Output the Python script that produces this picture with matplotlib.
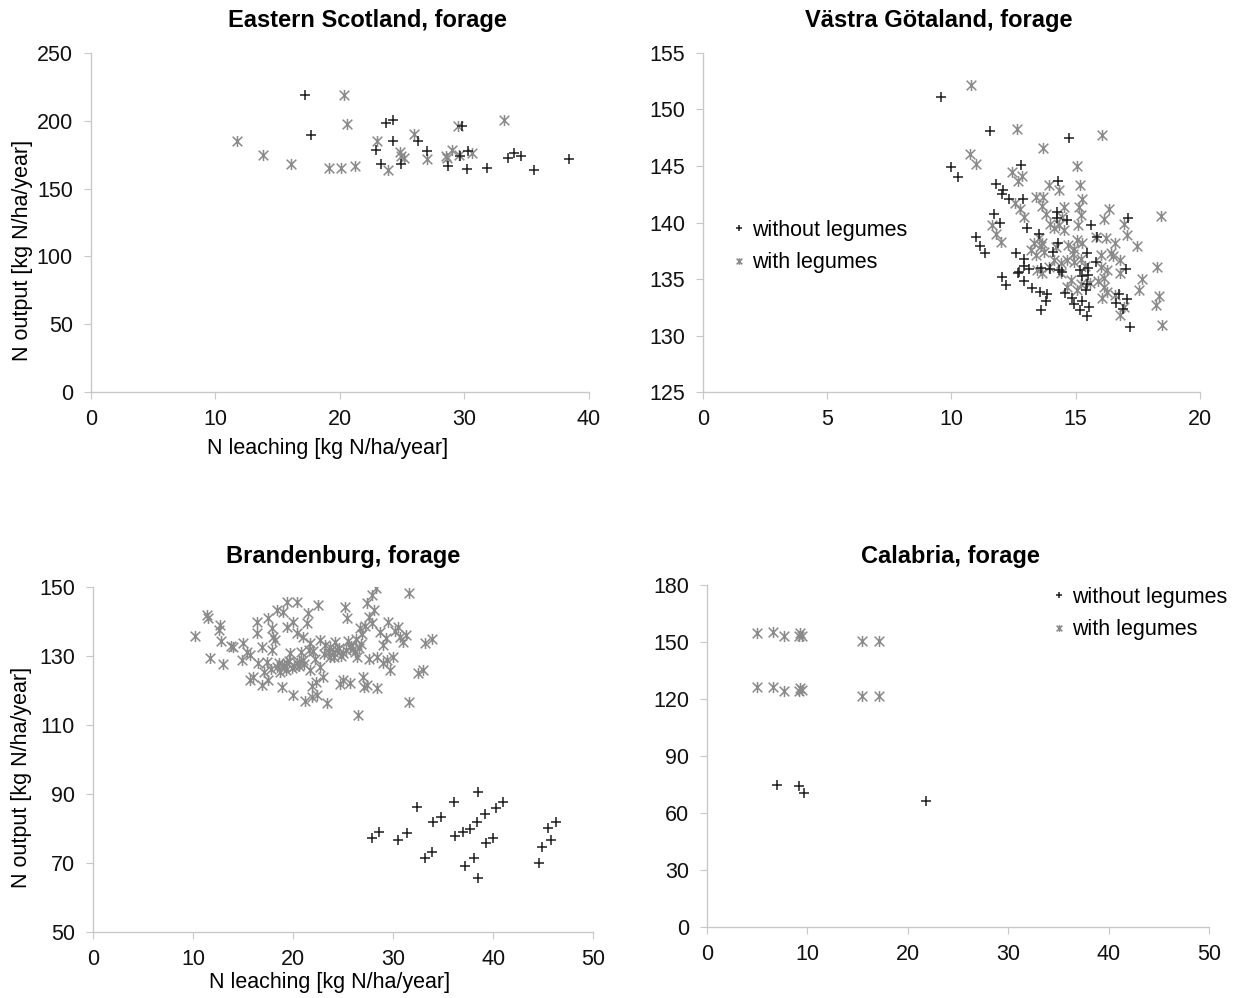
import matplotlib
matplotlib.use("Agg")
import matplotlib.pyplot as plt
from matplotlib.path import Path

plt.rcParams['font.family'] = ['Liberation Sans', 'DejaVu Sans']

# Eastern Scotland
sco_wo_x = [17.2, 17.7, 23.7, 24.3, 24.3, 22.9, 23.3, 24.9, 26.3, 27.0, 28.7, 29.7, 29.8, 30.2, 30.3,
            31.8, 33.5, 34.0, 34.6, 35.6, 38.4]
sco_wo_y = [218.7, 189.4, 198, 200.5, 185, 178.4, 168, 167.8, 185, 178, 166.6, 174.4, 196, 164.6, 177.4,
            164.9, 172.2, 176.4, 173.7, 163.6, 171.7]
sco_w_x = [11.7, 13.8, 16.1, 19.1, 20.1, 20.3, 20.6, 21.2, 23.0, 23.9, 24.8, 24.9, 25.2, 26.0, 27.0,
           28.5, 28.6, 29.0, 29.5, 29.6, 30.6, 33.2]
sco_w_y = [185.3, 175, 168.3, 165.1, 165.1, 218.7, 197.8, 166.8, 185, 163.6, 177.1, 174, 172.2, 190, 172,
           174, 172.5, 178.4, 196, 174.7, 176.4, 200.2]

# Vastra Gotaland
vg_wo_x = [9.56, 11.57, 14.73, 10.0, 10.27, 12.82, 14.29, 11.79, 12.08, 12.04, 12.33, 12.88, 11.73, 11.95,
           10.97, 11.17, 11.37, 13.05, 13.52, 14.25, 14.26, 14.67, 15.62, 17.11, 15.87, 14.30, 14.1, 12.62,
           12.94, 15.47, 15.83, 12.94, 13.12, 12.74, 13.59, 13.99, 14.35, 14.44, 15.17, 15.28, 15.5, 15.51,
           15.47, 15.44, 17.02, 12.04, 12.2, 12.69, 12.92, 13.25, 13.55, 13.86, 13.79, 13.59, 14.56, 14.84,
           14.93, 15.27, 15.17, 15.47, 15.56, 16.75, 17.06, 16.65, 16.92, 17.18]
vg_wo_y = [151.1, 148.1, 147.5, 144.9, 144.0, 145.1, 143.7, 143.4, 142.9, 142.5, 142.1, 142.1, 140.75, 140.0,
           138.7, 137.9, 137.3, 139.5, 139.0, 140.9, 140.4, 140.2, 139.8, 140.4, 138.7, 138.2, 137.4, 137.3,
           136.8, 137.3, 136.5, 136.2, 135.9, 135.6, 136.0, 135.9, 135.8, 135.6, 135.8, 135.3, 136.0, 135.4,
           134.6, 134.0, 135.9, 135.2, 134.5, 135.5, 134.8, 134.2, 133.9, 133.7, 133.1, 132.3, 133.8, 133.3,
           132.8, 133.1, 132.3, 131.7, 132.5, 133.7, 133.2, 132.9, 132.4, 130.8]
vg_w_x = [10.77, 12.65, 16.05, 13.67, 10.74, 10.97, 15.07, 12.45, 12.85, 12.67, 13.92, 14.33, 15.16, 13.39,
          13.7, 15.28, 12.58, 12.78, 12.92, 13.63, 13.79, 14.53, 14.46, 14.33, 15.13, 15.2, 15.11, 16.34,
          16.14, 16.95, 18.46, 11.64, 11.81, 12.0, 13.99, 14.53, 14.13, 13.32, 13.59, 13.72, 13.39, 15.07,
          15.27, 14.93, 15.81, 16.21, 16.61, 17.08, 17.49, 14.13, 14.4, 14.67, 14.93, 15.2, 16.01, 16.41,
          16.81, 16.01, 16.28, 16.81, 16.14, 18.29, 14.4, 14.8, 15.2, 14.67, 15.07, 16.14, 16.08, 16.28,
          17.69, 17.55, 18.36, 18.23, 16.81, 16.95, 18.47, 13.45, 13.65, 13.92, 13.19, 13.52, 13.66,
          14.9, 15.4, 15.9, 16.5, 14.2, 14.7, 15.6, 16.6]
vg_w_y = [152.2, 148.3, 147.7, 146.6, 146.1, 145.2, 145.0, 144.5, 144.1, 143.7, 143.3, 142.9, 143.3, 142.3,
          142.3, 142.1, 141.7, 141.2, 140.5, 141.5, 140.8, 141.4, 140.5, 139.8, 141.4, 140.7, 139.8, 141.2,
          140.3, 139.9, 140.6, 139.8, 139.0, 138.3, 139.9, 139.3, 139.5, 138.2, 137.9, 137.4, 137.1, 138.5,
          138.2, 137.7, 138.7, 138.6, 138.2, 138.9, 137.9, 136.7, 136.4, 136.7, 136.5, 136.8, 137.1, 137.3,
          136.7, 136.1, 135.8, 135.5, 135.1, 136.1, 135.5, 134.9, 134.6, 134.3, 134.0, 134.3, 133.3, 133.9,
          135.0, 134.0, 133.5, 132.7, 131.8, 132.5, 130.9, 135.8, 135.5, 136.1, 137.6, 138.6, 138.2,
          137.2, 136.2, 134.8, 137.0, 137.8, 138.0, 134.7, 133.6]

# Brandenburg
br_wo_x = [27.9, 28.6, 30.5, 31.4, 32.4, 33.2, 33.9, 34.0, 34.8, 36.1, 36.2, 37.0, 37.2, 37.7, 38.1, 38.4,
           38.5, 38.5, 39.2, 39.3, 40.0, 40.3, 41.0, 44.6, 44.9, 45.8, 45.5, 46.3]
br_wo_y = [77.2, 79.0, 76.7, 78.6, 86.3, 71.4, 73.1, 81.8, 83.2, 87.8, 77.8, 78.9, 69.1, 80.0, 71.4, 82.0,
           90.7, 65.7, 84.1, 75.9, 77.3, 86.0, 87.6, 69.9, 74.7, 76.7, 80.2, 82.0]
br_w_x = [10.2, 11.43, 11.5, 12.7, 12.6, 11.7, 13.0, 12.8, 14.0, 15.0, 14.9, 15.7, 16.0, 15.7, 16.9, 17.5,
          16.4, 17.5, 16.9, 17.9, 18.2, 17.9, 18.0, 16.5, 17.4, 18.4, 18.9, 18.9, 19.4, 20.4, 19.0, 19.4,
          20.0, 20.4, 19.7, 19.4, 20.4, 21.0, 20.0, 21.2, 21.9, 22.4, 23.4, 21.5, 22.5, 21.7, 22.7, 21.7,
          22.7, 23.0, 23.7, 24.4, 23.7, 25.0, 25.7, 26.4, 25.0, 25.7, 27.0, 27.4, 28.4, 25.2, 25.4, 26.7,
          27.9, 26.5, 27.4, 27.9, 28.3, 29.0, 28.4, 29.4, 29.5, 30.5, 30.7, 31.0, 29.0, 29.7, 30.0, 31.6,
          31.6, 32.5, 33.0, 33.2, 33.9, 18.4, 16.4, 21.0, 21.4, 24.0, 26.0, 24.8, 22.0, 20.6, 26.8, 27.6,
          18.6, 19.1, 19.6, 20.1, 20.6, 21.1, 19.9, 20.8, 21.6, 22.2, 23.2, 23.6, 24.2, 24.6, 25.3, 25.8,
          26.2, 26.6, 24.1, 23.1, 25.5, 26.9, 27.2, 27.6, 26.3, 28.1, 17.1, 17.8, 18.7, 19.3, 21.9, 22.3,
          24.7, 27.1, 28.7, 29.3, 30.2, 31.3, 13.8, 15.4]
br_w_y = [135.9, 141.9, 140.9, 139.0, 137.5, 129.3, 127.6, 134.3, 132.7, 133.7, 128.8, 130.3, 124.0, 123.0,
          121.6, 123.0, 139.9, 140.9, 132.7, 131.7, 134.6, 138.0, 135.6, 127.9, 128.3, 126.9, 127.4, 121.1,
          145.7, 145.7, 142.8, 138.5, 139.9, 136.6, 130.8, 127.9, 127.9, 128.8, 118.7, 116.8, 118.2, 118.7,
          116.3, 142.3, 144.8, 133.7, 134.6, 125.9, 126.9, 124.0, 132.7, 131.7, 129.8, 130.8, 132.7, 129.8,
          123.0, 122.1, 124.0, 121.6, 120.6, 144.3, 140.9, 138.0, 139.4, 112.9, 145.2, 147.7, 149.6, 133.2,
          129.8, 128.8, 139.9, 138.5, 135.6, 134.1, 127.9, 125.9, 129.8, 148.3, 116.6, 125.0, 125.9, 133.7,
          134.8, 143.3, 136.6, 135.6, 139.5, 131.0, 132.0, 130.0, 131.5, 127.0, 133.5, 129.0,
          128.0, 127.2, 128.5, 127.0, 128.2, 127.6, 126.5, 131.2, 131.8, 129.1, 133.1, 131.2, 133.9, 132.2,
          131.6, 133.0, 131.0, 132.4, 129.6, 130.6, 134.2, 136.4, 138.6, 141.2, 135.0, 143.4, 125.4, 126.1,
          125.2, 126.0, 121.3, 122.4, 121.9, 120.9, 137.0, 135.2, 137.2, 136.0, 132.9, 131.1]

# Calabria
cal_wo_x = [7.0, 9.2, 9.7, 21.8]
cal_wo_y = [74.7, 74.2, 70.7, 66.5]
cal_w_x = [4.95, 6.54, 7.67, 9.16, 9.43, 9.3, 15.4, 17.1, 4.95, 6.54, 7.67, 9.16, 9.43, 9.3, 15.4, 17.1]
cal_w_y = [154.9, 155.1, 153.2, 153.2, 153.2, 154.5, 150.5, 150.5, 126.2, 126.2, 124.4, 124.4, 124.8, 125.6,
           121.6, 121.6]

xlab = "N leaching [kg N/ha/year]"
ylab = "N output [kg N/ha/year]"

# excel style star: x plus vertical bar
star = Path([(-1, -1), (1, 1), (-1, 1), (1, -1), (0, -1.15), (0, 1.15)],
            [Path.MOVETO, Path.LINETO, Path.MOVETO, Path.LINETO, Path.MOVETO, Path.LINETO])

dark = "#1e1e1e"
grey = "#8a8a8a"
fs = 15.5

fig = plt.figure(figsize=(12.47, 9.98), dpi=100)

panels = [
    ("Eastern Scotland, forage", [0.073, 0.607, 0.399, 0.340], sco_wo_x, sco_wo_y, sco_w_x, sco_w_y,
     (0, 40), range(0, 41, 10), (0, 250), range(0, 251, 50), (0.556, 1.077)),
    ("Västra Götaland, forage", [0.564, 0.607, 0.398, 0.340], vg_wo_x, vg_wo_y, vg_w_x, vg_w_y,
     (0, 20), range(0, 21, 5), (125, 155), range(125, 156, 5), (0.474, 1.077)),
    ("Brandenburg, forage", [0.0746, 0.066, 0.401, 0.346], br_wo_x, br_wo_y, br_w_x, br_w_y,
     (0, 50), range(0, 51, 10), (50, 150), range(50, 151, 20), (0.50, 1.070)),
    ("Calabria, forage", [0.567, 0.071, 0.4026, 0.343], cal_wo_x, cal_wo_y, cal_w_x, cal_w_y,
     (0, 50), range(0, 51, 10), (0, 180), range(0, 181, 30), (0.484, 1.064)),
]

axes = []
for title, pos, xo, yo, xw, yw, xlim, xt, ylim, yt, tpos in panels:
    ax = fig.add_axes(pos)
    ax.plot(xo, yo, ls="none", marker="+", ms=7.5, mew=1.1, color=dark, label="without legumes", zorder=3)
    ax.plot(xw, yw, ls="none", marker=star, ms=8, mew=1.1, color=grey, mfc="none",
            label="with legumes", zorder=2)
    ax.set_xlim(*xlim)
    ax.set_ylim(*ylim)
    ax.set_xticks(list(xt))
    ax.set_yticks(list(yt))
    for s in ["top", "right"]:
        ax.spines[s].set_visible(False)
    for s in ["left", "bottom"]:
        ax.spines[s].set_color("#c8c8c8")
        ax.spines[s].set_linewidth(1.0)
    ax.tick_params(direction="out", length=5, color="#c8c8c8", labelsize=fs, labelcolor="#111111")
    ax.tick_params(axis="y", pad=8)
    ax.tick_params(axis="x", pad=7)
    ax.set_title(title, fontsize=17, fontweight="bold", x=tpos[0], y=tpos[1], pad=0)
    axes.append(ax)

for ax, ly, lx in [(axes[0], 0.419, -0.116), (axes[2], 0.449, -0.122)]:
    ax.set_ylabel(ylab, fontsize=fs)
    ax.yaxis.set_label_coords(lx, ly)
axes[0].set_xlabel(xlab, fontsize=fs)
axes[0].xaxis.set_label_coords(0.476, -0.136)
axes[2].set_xlabel(xlab, fontsize=fs)
axes[2].xaxis.set_label_coords(0.474, -0.115)

for ax, anchor in [(axes[1], (0.588, 0.780)), (axes[3], (0.845, 0.412))]:
    ax.legend(loc="upper left", bbox_to_anchor=anchor, bbox_transform=fig.transFigure,
              frameon=False, fontsize=fs, markerscale=0.6, handlelength=0.5,
              handletextpad=0.35, labelspacing=0.54, borderpad=0, borderaxespad=0)

fig.savefig("out.png", dpi=100, facecolor="white")
